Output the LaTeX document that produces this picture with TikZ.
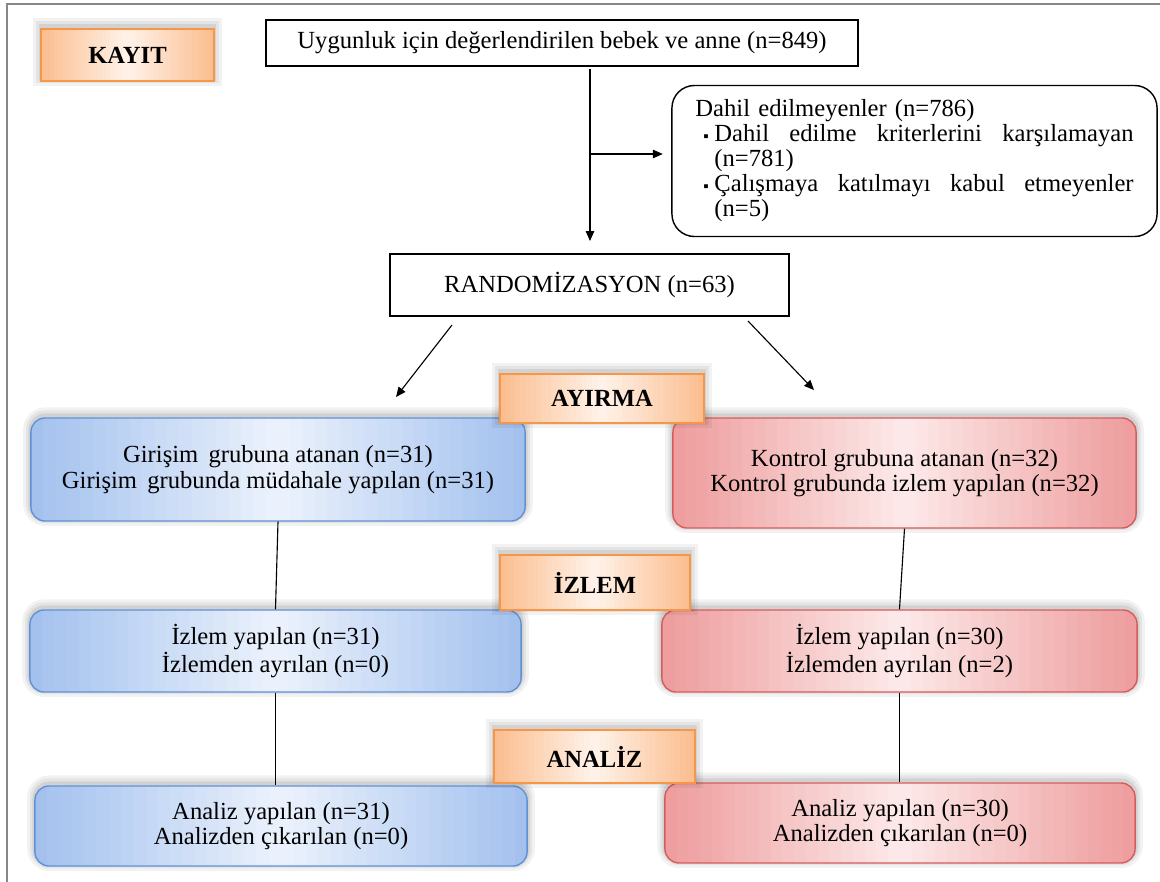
\documentclass[tikz,border=0pt]{standalone}
\usepackage{fontspec}
\setmainfont{Liberation Serif}
\newfontfamily\trfont{Liberation Serif}
\usetikzlibrary{positioning,calc,arrows.meta}

\definecolor{stageline}{RGB}{247,150,70}
\definecolor{stageedge}{RGB}{251,190,145}
\definecolor{stagemid}{RGB}{255,243,234}
\definecolor{blueline}{RGB}{95,145,212}
\definecolor{blueedge}{RGB}{164,193,238}
\definecolor{bluemid}{RGB}{236,243,252}
\definecolor{redline}{RGB}{214,92,92}
\definecolor{rededge}{RGB}{238,158,158}
\definecolor{redmid}{RGB}{253,234,234}
\definecolor{framegray}{RGB}{135,135,135}

% strips of colour from the edges to the middle of a box
\newcommand\stripfill[2]{%
  \foreach \i in {0,...,39}{%
    \pgfmathtruncatemacro\mixp{100*(1-abs(\i-19.5)/19.5)}%
    \fill[sharp corners, #2!\mixp!#1]
      ($(path picture bounding box.south west)!{\i/40}!(path picture bounding box.south east)$)
      rectangle
      ($(path picture bounding box.north west)!{(\i+1.3)/40}!(path picture bounding box.north east)$);
  }}

\begin{document}
\begin{tikzpicture}[x=0.025cm, y=-0.025cm,
    every node/.style={font=\trfont\fontsize{17.5}{18}\selectfont},
    plain box/.style={draw, line width=1pt, align=center},
    soft shadow/.style={
        preaction={draw=black, opacity=0.05, line width=11pt, transform canvas={yshift=2pt}},
        preaction={draw=black, opacity=0.06, line width=7pt, transform canvas={yshift=2pt}},
        preaction={draw=black, opacity=0.08, line width=3.5pt, transform canvas={yshift=1.5pt}}},
    stage box/.style={soft shadow, draw=stageline, line width=1pt, fill=stagemid,
        path picture={\stripfill{stageedge}{stagemid}},
        font=\trfont\fontsize{17.5}{18}\selectfont\bfseries},
    blue box/.style={soft shadow, draw=blueline, line width=1pt, rounded corners=10pt, align=center,
        fill=bluemid, path picture={\stripfill{blueedge}{bluemid}}},
    red box/.style={soft shadow, draw=redline, line width=1pt, rounded corners=10pt, align=center,
        fill=redmid, path picture={\stripfill{rededge}{redmid}}},
    link/.style={line width=0.8pt},
    tip/.style={-{Triangle[length=7pt,width=6pt]}}
]
    \useasboundingbox (0,0) rectangle (1160,882);
    \draw[framegray, line width=1.4pt] (7,882) -- (7,4) -- (1160,4);

    % enrolment
    \node[stage box, minimum width=4.325cm, minimum height=1.3cm] (kayit) at (127.5,55) {KAYIT};
    \node[plain box, minimum width=14.8cm, minimum height=1.15cm] (uygunluk) at (562,43)
        {Uygunluk için değerlendirilen bebek ve anne (n=849)};
    \node[draw, line width=1pt, rounded corners=16pt, minimum width=12.125cm, minimum height=3.775cm,
        text width=10.95cm, align=left, font=\trfont\fontsize{17.5}{17.8}\selectfont] (dahil) at (914.5,161)
        {Dahil edilmeyenler (n=786)\\
         \makebox[0.475cm][l]{\hspace*{0.2cm}\fontsize{11}{17}\selectfont▪}\hbox to 10.475cm{Dahil\hfill edilme\hfill kriterlerini\hfill karşılamayan}\\
         \hspace*{0.475cm}(n=781)\\
         \makebox[0.475cm][l]{\hspace*{0.2cm}\fontsize{11}{17}\selectfont▪}\hbox to 10.475cm{Çalışmaya\hfill katılmayı\hfill kabul\hfill etmeyenler}\\
         \hspace*{0.475cm}(n=5)};
    \node[plain box, minimum width=9.975cm, minimum height=1.55cm] (rand) at (589.5,285)
        {RANDOMİZASYON (n=63)};

    \coordinate (split top) at (590,69);
    \coordinate (split end) at (590,241);
    \coordinate (split) at (590,154);
    \draw[link, tip] (split top) -- (split end);
    \draw[link, tip, shorten >=6pt] (split) -- (split -| dahil.west);

    % groups
    \node[blue box, minimum width=12.35cm, minimum height=2.575cm] (g1) at (278,469.5)
        {Girişim\, grubuna atanan (n=31)\\Girişim\, grubunda müdahale yapılan (n=31)};
    \node[red box, minimum width=11.575cm, minimum height=2.75cm] (k1) at (904.5,473)
        {Kontrol grubuna atanan (n=32)\\Kontrol grubunda izlem yapılan (n=32)};
    \node[blue box, minimum width=12.275cm, minimum height=2.05cm] (g2) at (275.5,651)
        {İzlem yapılan (n=31)\\İzlemden ayrılan (n=0)};
    \node[red box, minimum width=11.875cm, minimum height=2.05cm] (k2) at (899.5,651)
        {İzlem yapılan (n=30)\\İzlemden ayrılan (n=2)};
    \node[blue box, minimum width=12.3cm, minimum height=2cm] (g3) at (281,826)
        {Analiz yapılan (n=31)\\Analizden çıkarılan (n=0)};
    \node[red box, minimum width=11.75cm, minimum height=2cm] (k3) at (900,823)
        {Analiz yapılan (n=30)\\Analizden çıkarılan (n=0)};

    \coordinate (rand left) at (452,325);
    \coordinate (g1 top) at (396,397);
    \coordinate (rand right) at (748,321);
    \coordinate (k1 top) at (814,390);
    \draw[link, tip] (rand left) -- (g1 top);
    \draw[link, tip] (rand right) -- (k1 top);

    \draw[link] (g1.south) -- (g2.north);
    \draw[link] (g2.south) -- (g2.south |- g3.north);
    \draw[link] (k1.south) -- (k2.north);
    \draw[link] (k2.south) -- (k2.south |- k3.north);

    % stages
    \node[stage box, minimum width=5.1cm, minimum height=1.225cm] (ayirma) at (602,398.5) {AYIRMA};
    \node[stage box, minimum width=4.75cm, minimum height=1.375cm] (izlem) at (595,582.5) {İZLEM};
    \node[stage box, minimum width=5.025cm, minimum height=1.325cm] (analiz) at (594.5,756.5) {ANALİZ};
\end{tikzpicture}
\end{document}
